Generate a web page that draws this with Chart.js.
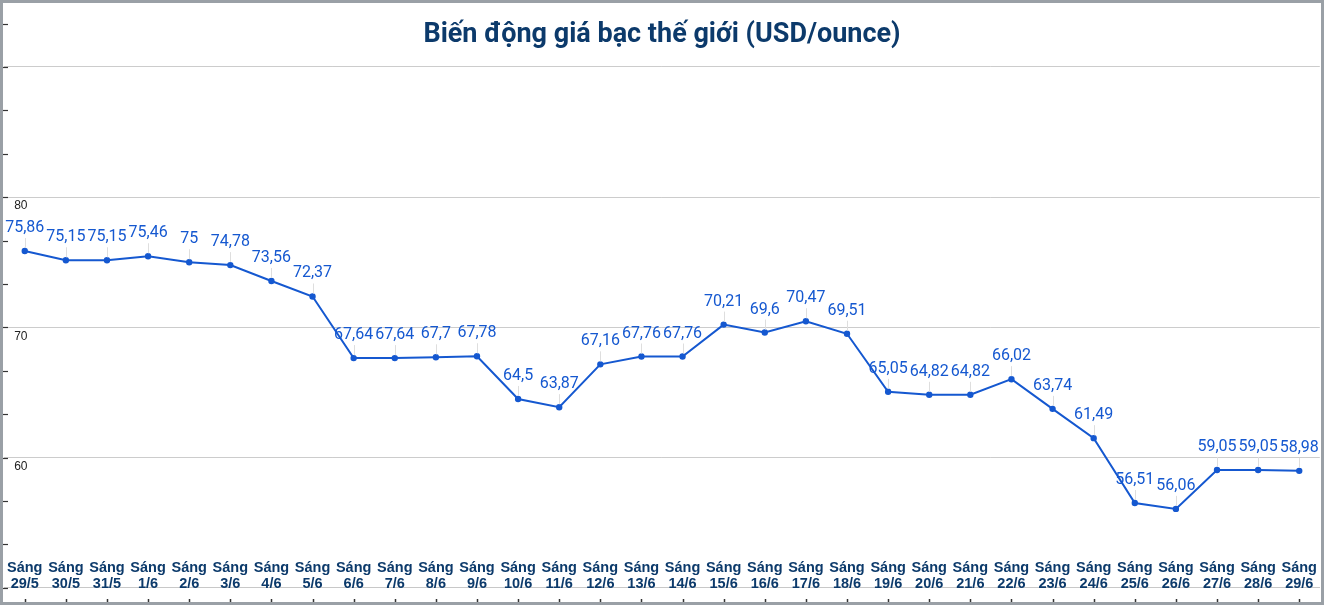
<!DOCTYPE html>
<html>
<head>
<meta charset="utf-8">
<script src="https://cdn.jsdelivr.net/npm/chart.js@4.4.1/dist/chart.umd.min.js"></script>
<style>
  html, body { margin: 0; padding: 0; background: #fff; }
  #wrap { width: 1324px; height: 605px; position: relative; }
</style>
</head>
<body>
<div id="wrap"><canvas id="myChart"></canvas></div>
<script>
// du lieu doc tu hinh
var days = ['29/5', '30/5', '31/5', '1/6', '2/6', '3/6', '4/6', '5/6', '6/6', '7/6', '8/6',
    '9/6', '10/6', '11/6', '12/6', '13/6', '14/6', '15/6', '16/6', '17/6', '18/6', '19/6',
    '20/6', '21/6', '22/6', '23/6', '24/6', '25/6', '26/6', '27/6', '28/6', '29/6'];
var prefix = 'Sáng';
var prices = [75.86, 75.15, 75.15, 75.46, 75, 74.78, 73.56, 72.37, 67.64, 67.64, 67.7,
    67.78, 64.5, 63.87, 67.16, 67.76, 67.76, 70.21, 69.6, 70.47, 69.51, 65.05,
    64.82, 64.82, 66.02, 63.74, 61.49, 56.51, 56.06, 59.05, 59.05, 58.98];
var yLabels = [60, 70, 80];
var title = 'Biến động giá bạc thế giới (USD/ounce)';

var blue = '#1558d0';
var navy = '#0c3a6b';

function isMajor(v) {
    return Math.abs(v / 10 - Math.round(v / 10)) < 1e-6;
}

var extras = {
    id: 'extras',
    beforeDraw: function(chart) {
        var c = chart.ctx;
        c.save();
        c.fillStyle = '#fff';
        c.fillRect(0, 0, chart.width, chart.height);
        c.restore();
    },
    afterDraw: function(chart) {
        var c = chart.ctx;
        var x = chart.scales.x, y = chart.scales.y;
        c.save();

        // tick nho ben trai
        c.strokeStyle = '#333';
        c.lineWidth = 1.2;
        y.ticks.forEach(function(t, i) {
            var py = Math.round(y.getPixelForTick(i)) + 0.5;
            c.beginPath();
            c.moveTo(3, py);
            c.lineTo(8, py);
            c.stroke();
        });

        // tick nho duoi truc x
        c.lineWidth = 1.5;
        x.ticks.forEach(function(t, i) {
            var px = Math.round(x.getPixelForTick(i)) + 0.5;
            c.beginPath();
            c.moveTo(px, 599);
            c.lineTo(px, 602);
            c.stroke();
        });

        // nhan truc x (nam trong vung ve)
        c.fillStyle = navy;
        c.font = 'bold 14.5px "Liberation Sans", Arial, sans-serif';
        c.textAlign = 'center';
        c.textBaseline = 'middle';
        x.ticks.forEach(function(t, i) {
            var px = x.getPixelForTick(i);
            c.fillText(prefix, px, 568);
            c.fillText(days[i], px, 584);
        });

        // nhan gia tri
        var meta = chart.getDatasetMeta(0);
        c.font = '16px Roboto, sans-serif';
        meta.data.forEach(function(pt, i) {
            c.strokeStyle = '#dedede';
            c.lineWidth = 1;
            c.beginPath();
            c.moveTo(Math.round(pt.x) + 0.5, pt.y - 13);
            c.lineTo(Math.round(pt.x) + 0.5, pt.y - 3);
            c.stroke();
            c.fillStyle = blue;
            c.fillText(String(prices[i]).replace('.', ','), pt.x, pt.y - 23);
        });

        // tieu de
        c.fillStyle = navy;
        c.font = 'bold 27px Roboto, sans-serif';
        c.fillText(title, chart.width / 2, 35);

        // khung
        c.fillStyle = '#9aa0a6';
        c.fillRect(0, 0, chart.width, 3);
        c.fillRect(0, 0, 3, chart.height);
        c.fillRect(chart.width - 3, 0, 3, chart.height);
        c.fillRect(0, chart.height - 3, chart.width, 3);
        c.restore();
    }
};

var ctx = document.getElementById('myChart').getContext('2d');
var myChart = new Chart(ctx, {
    type: 'line',
    data: {
        labels: days,
        datasets: [{
            label: 'Giá bạc',
            data: prices,
            borderColor: blue,
            backgroundColor: blue,
            borderWidth: 2,
            pointRadius: 2.2,
            pointHoverRadius: 2.2,
            tension: 0
        }]
    },
    options: {
        responsive: true,
        maintainAspectRatio: false,
        animation: false,
        layout: { padding: { left: 1, right: 3, top: 23.5, bottom: 8 } },
        plugins: {
            legend: { display: false },
            tooltip: { enabled: false }
        },
        scales: {
            x: {
                offset: true,
                grid: { display: false },
                border: { display: true, color: '#c8c8c8', width: 1 },
                ticks: { display: false },
                afterFit: function(s) { s.height = 0; }
            },
            y: {
                min: 50,
                max: 50 + 130 / 3,
                border: { display: false },
                afterFit: function(s) { s.width = 0; },
                grid: {
                    drawTicks: false,
                    color: function(c) {
                        return isMajor(c.tick.value) && c.tick.value < 90.1 ? '#cccccc' : 'rgba(0,0,0,0)';
                    }
                },
                ticks: {
                    stepSize: 10 / 3,
                    mirror: true,
                    padding: 10,
                    labelOffset: 9,
                    color: '#222',
                    font: { family: '"Liberation Sans", Arial, sans-serif', size: 12 },
                    callback: function(v) {
                        for (var k = 0; k < yLabels.length; k++) {
                            if (Math.abs(v - yLabels[k]) < 1e-6) return String(yLabels[k]);
                        }
                        return '';
                    }
                }
            }
        }
    },
    plugins: [extras]
});
</script>
</body>
</html>
